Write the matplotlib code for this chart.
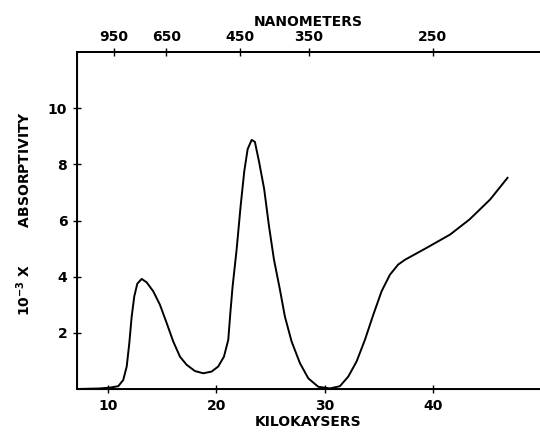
import matplotlib
matplotlib.use('Agg')
import matplotlib.pyplot as plt

# absorption spectrum
kk = [7.2, 9.26, 10.18, 10.95, 11.41, 11.73, 11.97, 12.19, 12.43, 12.71, 13.11, 13.57,
      14.18, 14.8, 15.42, 16.03, 16.65, 17.27, 18.03, 18.8, 19.57, 20.18, 20.71, 21.11,
      21.3, 21.51, 21.88, 22.25, 22.59, 22.9, 23.27, 23.57, 23.97, 24.43, 24.87, 25.33,
      25.88, 26.34, 26.96, 27.73, 28.5, 29.42, 30.5, 31.42, 32.19, 32.96, 33.73, 34.5,
      35.27, 36.04, 36.8, 37.42, 39.4, 41.6, 43.4, 45.3, 46.9]
absorb = [0.0, 0.02, 0.05, 0.1, 0.32, 0.8, 1.63, 2.58, 3.30, 3.75, 3.92, 3.80,
          3.48, 3.0, 2.35, 1.69, 1.15, 0.86, 0.64, 0.56, 0.62, 0.8, 1.15, 1.75,
          2.7, 3.65, 4.96, 6.51, 7.76, 8.54, 8.87, 8.80, 8.06, 7.11, 5.8, 4.61,
          3.54, 2.58, 1.69, 0.92, 0.38, 0.08, 0.02, 0.1, 0.44, 0.98, 1.75, 2.64,
          3.48, 4.07, 4.43, 4.6, 5.02, 5.5, 6.04, 6.75, 7.52]

x_ticks = [10, 20, 30, 40]
y_ticks = [2, 4, 6, 8, 10]
nm_ticks = [950, 650, 450, 350, 250]

plt.rcParams['font.family'] = 'DejaVu Sans'
plt.rcParams['font.weight'] = 'bold'
plt.rcParams['axes.labelweight'] = 'bold'
plt.rcParams['mathtext.default'] = 'bf'

fig = plt.figure(figsize=(5.4, 4.33), dpi=100)
ax = fig.add_axes([77/540, 44/433, 1 - 77/540, (389-52)/433])
ax.plot(kk, absorb, color='black', lw=1.4)
ax.set_xlim(7.14, 49.9)
ax.set_ylim(0, 12)

ax.spines['right'].set_visible(False)
for s in ['left', 'bottom', 'top']:
    ax.spines[s].set_linewidth(1.4)

ax.set_xticks(x_ticks)
ax.set_yticks(y_ticks)
ax.tick_params(direction='inout', length=6, width=1, labelsize=10, pad=4)
ax.set_xlabel('KILOKAYSERS', fontsize=10, labelpad=2)
ax.set_ylabel('10$^{-3}$ X        ABSORPTIVITY', fontsize=10, labelpad=10)
ax.yaxis.set_label_coords(-0.095, 0.52)

top = ax.twiny()
top.set_xlim(ax.get_xlim())
top.set_xticks([1e4 / n for n in nm_ticks])
top.set_xticklabels([str(n) for n in nm_ticks])
top.spines['right'].set_visible(False)
top.spines['top'].set_linewidth(1.4)
top.tick_params(direction='inout', length=6, width=1, labelsize=10, pad=3)
top.set_xlabel('NANOMETERS', fontsize=10, labelpad=3)

fig.savefig('out.png', dpi=100)
